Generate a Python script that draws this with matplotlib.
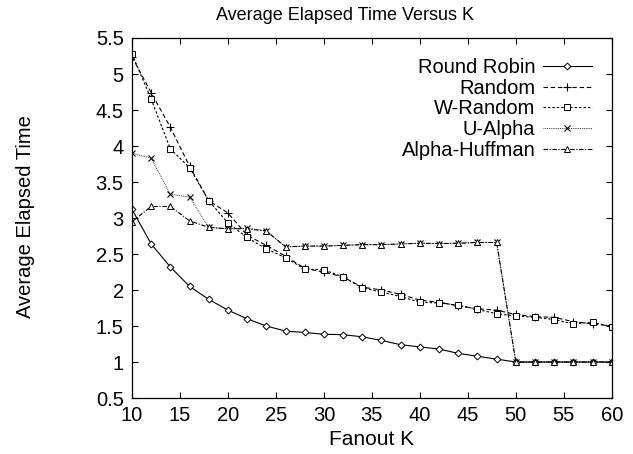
import matplotlib
matplotlib.use('Agg')
import matplotlib.pyplot as plt

plt.rcParams['font.family'] = ['Liberation Sans', 'DejaVu Sans']

# Fanout K values on the x axis
fanout_k = [10, 12, 14, 16, 18, 20, 22, 24, 26, 28, 30, 32, 34, 36, 38, 40,
            42, 44, 46, 48, 50, 52, 54, 56, 58, 60]

# Average elapsed time per method
round_robin = [3.12, 2.64, 2.32, 2.05, 1.87, 1.72, 1.60, 1.50, 1.43, 1.41, 1.385,
               1.38, 1.35, 1.30, 1.24, 1.21, 1.18, 1.12, 1.08, 1.04, 1.00, 1.00,
               1.00, 1.00, 1.00, 1.00]
random_ = [5.24, 4.74, 4.26, 3.72, 3.24, 3.07, 2.76, 2.62, 2.47, 2.30, 2.25,
           2.18, 2.04, 2.00, 1.94, 1.86, 1.83, 1.78, 1.74, 1.72, 1.66, 1.63,
           1.62, 1.56, 1.53, 1.50]
w_random = [5.28, 4.65, 3.96, 3.70, 3.24, 2.93, 2.73, 2.57, 2.45, 2.29, 2.28,
            2.18, 2.03, 1.97, 1.91, 1.83, 1.82, 1.79, 1.73, 1.67, 1.64, 1.62,
            1.59, 1.53, 1.55, 1.49]
u_alpha = [3.90, 3.83, 3.33, 3.29, 2.87, 2.85, 2.86, 2.82, 2.60, 2.61, 2.61,
           2.62, 2.63, 2.63, 2.64, 2.65, 2.645, 2.65, 2.66, 2.66, 1.00, 1.00,
           1.00, 1.00, 1.00, 1.00]
alpha_huffman = [2.95, 3.16, 3.16, 2.96, 2.87, 2.85, 2.85, 2.82, 2.60, 2.61, 2.61,
                 2.62, 2.63, 2.63, 2.64, 2.65, 2.645, 2.65, 2.66, 2.66, 1.00, 1.00,
                 1.00, 1.00, 1.00, 1.00]

x_ticks = [10, 15, 20, 25, 30, 35, 40, 45, 50, 55, 60]
y_ticks = [0.5, 1, 1.5, 2, 2.5, 3, 3.5, 4, 4.5, 5, 5.5]

fig = plt.figure(figsize=(6.33, 4.54), dpi=100)
ax = fig.add_axes([0.2085, 0.1233, 0.758, 0.793])

lw = 0.8
ax.plot(fanout_k, round_robin, color='black', lw=lw, ls='-',
        marker='D', ms=3.5, mfc='white', mew=0.7, label='Round Robin')
ax.plot(fanout_k, random_, color='black', lw=lw, ls=(0, (4, 2.5)),
        marker='+', ms=6, mew=0.8, label='Random')
ax.plot(fanout_k, w_random, color='black', lw=lw, ls=(0, (2.2, 1.8)),
        marker='s', ms=5, mfc='white', mew=0.7, label='W-Random')
ax.plot(fanout_k, u_alpha, color='black', lw=0.6, ls=(0, (1, 1.2)),
        marker='x', ms=5, mew=0.8, label='U-Alpha')
ax.plot(fanout_k, alpha_huffman, color='black', lw=lw, ls=(0, (4, 1.5, 1, 1.5)),
        marker='^', ms=4.5, mfc='white', mew=0.7, label='Alpha-Huffman')

ax.set_xlim(10, 60)
ax.set_ylim(0.5, 5.5)
ax.set_xticks(x_ticks)
ax.set_xticklabels([str(t) for t in x_ticks])
ax.set_yticks(y_ticks)
ax.set_yticklabels(['%g' % t for t in y_ticks])
ax.tick_params(direction='in', length=4.5, width=0.8, top=True, right=True,
               labelsize=14.5, pad=6)
for sp in ax.spines.values():
    sp.set_linewidth(0.9)

ax.set_xlabel('Fanout K', fontsize=15, labelpad=3)
fig.text(26 / 633, 1 - 217 / 454, 'Average Elapsed Time', rotation=90,
         ha='center', va='center', fontsize=14.5)
fig.text(345 / 633, 1 - 15 / 454, 'Average Elapsed Time Versus K',
         ha='center', va='center', fontsize=13)

leg = ax.legend(loc='upper right', bbox_to_anchor=(0.958, 0.945),
                markerfirst=False, frameon=False, fontsize=14.5,
                handlelength=2.4, handletextpad=0.4, labelspacing=0.09,
                borderpad=0, borderaxespad=0)

fig.savefig('out.png', dpi=100)
